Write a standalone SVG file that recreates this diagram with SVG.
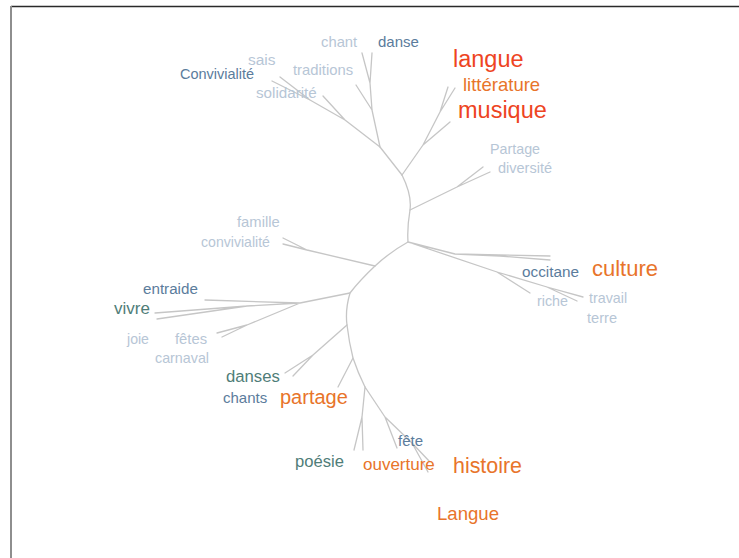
<svg xmlns="http://www.w3.org/2000/svg" width="739" height="558" viewBox="0 0 739 558">
<style>
text{font-family:"Liberation Sans",Arial,sans-serif}
.l{fill:#b7c6d6;font-size:14.8px}
.m{fill:#5b7c9c;font-size:15px}
.t{fill:#4f7d78}
.o{fill:#e8742a}
.r{fill:#ee4422}
.e{stroke:#c6c6c6;stroke-width:1.3;fill:none;stroke-linecap:round;stroke-linejoin:round}
</style>
<rect width="739" height="558" fill="#fff"/>
<line x1="11" y1="6.5" x2="739" y2="6.5" stroke="#2a2a2a" stroke-width="1.5"/>
<line x1="11" y1="6" x2="11" y2="558" stroke="#8e8e8e" stroke-width="2"/>
<g id="connectors" class="e">
<path d="M402,175 Q412,195 410,210 Q407,228 408,242 Q390,252 375,266 Q360,280 350,293 Q345,310 347,325 Q349,342 353,358 Q358,373 365,387"/>
<path d="M402,175 L380,147 L372,110 L370,83 L362,53 M370,83 L372,53 M372,110 L356,85"/>
<path d="M380,147 L345,120 L323,96 M345,120 L310,100 L272,81 M310,100 L280,77"/>
<path d="M402,175 L423,145 L450,122 M423,145 L440,112 L448,87 M440,112 L455,88"/>
<path d="M410,210 L457,187 L483,167 M457,187 L490,172"/>
<path d="M408,242 L455,254 L550,256 M455,254 L500,256 L550,260 M408,242 L497,272 L530,293 M497,272 L547,287 L583,297 M547,287 L577,301"/>
<path d="M375,266 L307,250 L283,238 M307,250 L283,244"/>
<path d="M350,293 L300,303 L205,300 M300,303 L247,306 L155,313 M247,306 L157,319 M300,303 L247,325 L217,333 M247,325 L222,337"/>
<path d="M347,325 L313,355 L285,373 M313,355 L293,376"/>
<path d="M353,358 L338,387"/>
<path d="M365,387 L362,417 L354,450 M362,417 L363,450 M365,387 L385,417 L397,448 M385,417 L412,443 L430,462 M412,443 L428,472"/>
</g>
<g id="n-chant"><text class="l" x="321" y="47">chant</text></g>
<g id="n-danse"><text class="m" x="378" y="47">danse</text></g>
<g id="n-sais"><text class="l" x="248" y="65" style="font-size:15.5px">sais</text></g>
<g id="n-Convivialite"><text class="m" x="180" y="79" style="font-size:14.5px">Convivialité</text></g>
<g id="n-traditions"><text class="l" x="293" y="75">traditions</text></g>
<g id="n-solidarite"><text class="l" x="256" y="98" style="font-size:15.2px">solidarité</text></g>
<g id="n-langue"><text class="r" x="453" y="67" style="font-size:23.5px">langue</text></g>
<g id="n-litterature"><text class="o" x="463" y="91" style="font-size:18.5px">littérature</text></g>
<g id="n-musique"><text class="r" x="458" y="118" style="font-size:23.5px">musique</text></g>
<g id="n-Partage"><text class="l" x="490" y="154" style="font-size:14.3px">Partage</text></g>
<g id="n-diversite"><text class="l" x="498" y="173" style="font-size:14.5px">diversité</text></g>
<g id="n-famille"><text class="l" x="237" y="227">famille</text></g>
<g id="n-convivialite"><text class="l" x="201" y="247" style="font-size:14.1px">convivialité</text></g>
<g id="n-occitane"><text class="m" x="522" y="277" style="font-size:15.3px">occitane</text></g>
<g id="n-culture"><text class="o" x="592" y="276" style="font-size:22px">culture</text></g>
<g id="n-riche"><text class="l" x="537" y="306" style="font-size:14.3px">riche</text></g>
<g id="n-travail"><text class="l" x="589" y="303" style="font-size:14.3px">travail</text></g>
<g id="n-terre"><text class="l" x="587" y="323" style="font-size:14.6px">terre</text></g>
<g id="n-entraide"><text class="m" x="143" y="294" style="font-size:15.2px">entraide</text></g>
<g id="n-vivre"><text class="t" x="114" y="314" style="font-size:17px">vivre</text></g>
<g id="n-joie"><text class="l" x="127" y="344" style="font-size:14.1px">joie</text></g>
<g id="n-fetes"><text class="l" x="175" y="344">fêtes</text></g>
<g id="n-carnaval"><text class="l" x="155" y="363" style="font-size:14.3px">carnaval</text></g>
<g id="n-danses"><text class="t" x="226" y="382" style="font-size:16.7px">danses</text></g>
<g id="n-chants"><text class="m" x="223" y="403">chants</text></g>
<g id="n-partage"><text class="o" x="280" y="404" style="font-size:20px">partage</text></g>
<g id="n-poesie"><text class="t" x="295" y="467" style="font-size:16.6px">poésie</text></g>
<g id="n-fete"><text class="m" x="398" y="446">fête</text></g>
<g id="n-ouverture"><text class="o" x="363" y="470" style="font-size:17px">ouverture</text></g>
<g id="n-histoire"><text class="o" x="453" y="473" style="font-size:21.4px">histoire</text></g>
<g id="n-Langue"><text class="o" x="437" y="520" style="font-size:18.6px">Langue</text></g>
</svg>
